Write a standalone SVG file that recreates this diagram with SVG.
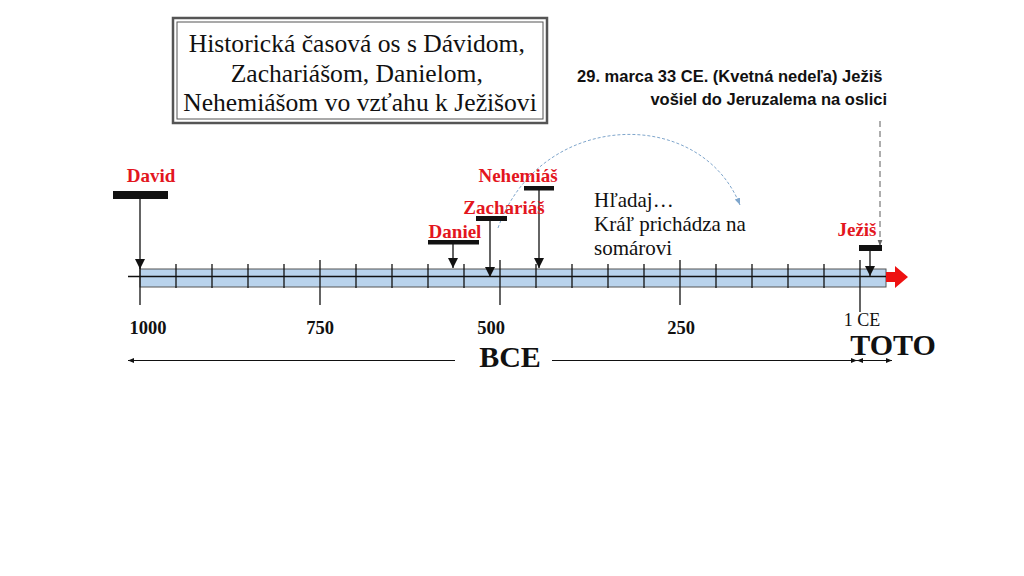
<svg xmlns="http://www.w3.org/2000/svg" width="1024" height="576" viewBox="0 0 1024 576">
<defs>
<style>
.serif{font-family:"Liberation Serif","Times New Roman",serif}
.lbl{font-family:"Liberation Serif",serif;font-weight:bold;font-size:19px;fill:#e3161e}
.yr{font-family:"Liberation Serif",serif;font-weight:bold;font-size:18.5px;fill:#111}
.big{font-family:"Liberation Serif",serif;font-weight:bold;font-size:30px;fill:#111}
.tk{stroke:#111;stroke-width:1.3}
.bar{fill:#111}
.ptr{stroke:#111;stroke-width:1.3;fill:none}
</style>
<marker id="tri" viewBox="0 0 10 10" refX="10" refY="5" markerWidth="10" markerHeight="10" markerUnits="userSpaceOnUse" orient="auto">
<path d="M0,0 L10,5 L0,10 z" fill="#111"/>
</marker>
<marker id="tri2" viewBox="0 0 10 10" refX="10" refY="5" markerWidth="6" markerHeight="6" markerUnits="userSpaceOnUse" orient="auto-start-reverse">
<path d="M0,1 L10,5 L0,9 z" fill="#111"/>
</marker>
<marker id="dsh" viewBox="0 0 10 10" refX="10" refY="5" markerWidth="7" markerHeight="7" markerUnits="userSpaceOnUse" orient="auto">
<path d="M0,1 L10,5 L0,9 z" fill="#7fa6cc"/>
</marker>
<marker id="gry" viewBox="0 0 10 10" refX="10" refY="5" markerWidth="6" markerHeight="6" markerUnits="userSpaceOnUse" orient="auto">
<path d="M0,1 L10,5 L0,9 z" fill="#666"/>
</marker>
</defs>
<rect width="1024" height="576" fill="#fff"/>

<g id="title">
<rect x="173" y="18" width="374" height="105" fill="#fff" stroke="#555" stroke-width="2.5"/>
<rect x="177" y="22" width="366" height="97" fill="none" stroke="#555" stroke-width="1"/>
<text class="serif" font-size="25.6" fill="#111" text-anchor="middle">
<tspan x="360" y="52">Historická časová os s Dávidom,</tspan>
<tspan x="360" y="82">Zachariášom, Danielom,</tspan>
<tspan x="360" y="111">Nehemiášom vo vzťahu k Ježišovi</tspan>
</text>
</g>

<g id="note">
<text font-family="'Liberation Sans',Arial,sans-serif" font-weight="bold" font-size="16.5" fill="#111" text-anchor="end">
<tspan x="887" y="82">29. marca 33 CE. (Kvetná nedeľa) Ježiš</tspan>
<tspan x="887" y="105">vošiel do Jeruzalema na oslici</tspan>
</text>
</g>

<g id="timeline">
<rect x="140" y="269" width="746" height="18" fill="#b9d3ec" stroke="#555" stroke-width="1"/>
<line x1="128" y1="276.5" x2="886" y2="276.5" stroke="#111" stroke-width="1.3"/>
<g class="tk">
<line x1="176" y1="264" x2="176" y2="288"/><line x1="212" y1="264" x2="212" y2="288"/>
<line x1="248" y1="264" x2="248" y2="288"/><line x1="284" y1="264" x2="284" y2="288"/>
<line x1="356" y1="264" x2="356" y2="288"/><line x1="392" y1="264" x2="392" y2="288"/>
<line x1="428" y1="264" x2="428" y2="288"/><line x1="464" y1="264" x2="464" y2="288"/>
<line x1="536" y1="264" x2="536" y2="288"/><line x1="572" y1="264" x2="572" y2="288"/>
<line x1="608" y1="264" x2="608" y2="288"/><line x1="644" y1="264" x2="644" y2="288"/>
<line x1="716" y1="264" x2="716" y2="288"/><line x1="752" y1="264" x2="752" y2="288"/>
<line x1="788" y1="264" x2="788" y2="288"/><line x1="824" y1="264" x2="824" y2="288"/>
<line x1="140" y1="264" x2="140" y2="305"/>
<line x1="320" y1="260" x2="320" y2="305"/>
<line x1="500" y1="260" x2="500" y2="305"/>
<line x1="680" y1="260" x2="680" y2="305"/>
<line x1="860" y1="260" x2="860" y2="312"/>
</g>
<polygon points="886,272 895,272 895,266 908,277 895,288 895,282 886,282" fill="#ee1111"/>
<text class="yr" x="148" y="334" text-anchor="middle">1000</text>
<text class="yr" x="320" y="334" text-anchor="middle">750</text>
<text class="yr" x="491" y="334" text-anchor="middle">500</text>
<text class="yr" x="681" y="334" text-anchor="middle">250</text>
<text class="serif" x="862" y="326" font-size="18" fill="#111" text-anchor="middle">1 CE</text>
<text class="big" x="893" y="355" text-anchor="middle">TOTO</text>
<text class="big" x="510" y="367" text-anchor="middle">BCE</text>
</g>

<g id="connectors">
<line x1="455" y1="360.5" x2="128" y2="360.5" stroke="#111" stroke-width="1" marker-end="url(#tri2)"/>
<line x1="552" y1="360.5" x2="857" y2="360.5" stroke="#111" stroke-width="1" marker-end="url(#tri2)"/>
<line x1="857" y1="360.5" x2="892" y2="360.5" stroke="#111" stroke-width="1" marker-start="url(#tri2)" marker-end="url(#tri2)"/>
<line x1="140" y1="199" x2="140" y2="269" class="ptr" marker-end="url(#tri)"/>
<line x1="453" y1="244" x2="453" y2="268" class="ptr" marker-end="url(#tri)"/>
<line x1="490" y1="221" x2="490" y2="277" class="ptr" marker-end="url(#tri)"/>
<line x1="539" y1="190" x2="539" y2="268" class="ptr" marker-end="url(#tri)"/>
<line x1="870" y1="251" x2="870" y2="276" class="ptr" marker-end="url(#tri)"/>
<line x1="880" y1="121" x2="880" y2="246" stroke="#777" stroke-width="1.2" stroke-dasharray="6,4" marker-end="url(#gry)"/>
<path d="M498,228 C540,110 700,105 740,205" fill="none" stroke="#7fa6cc" stroke-width="1" stroke-dasharray="3,2" marker-end="url(#dsh)"/>
</g>

<g id="david">
<rect class="bar" x="113" y="191" width="55" height="8"/>
<text class="lbl" x="151" y="182" text-anchor="middle">David</text>
</g>
<g id="daniel">
<rect class="bar" x="428" y="240" width="51" height="4.5"/>
<text class="lbl" x="455" y="238" text-anchor="middle">Daniel</text>
</g>
<g id="zachariah">
<rect class="bar" x="476" y="216" width="31" height="5"/>
<text class="lbl" x="504" y="214" text-anchor="middle">Zachariáš</text>
</g>
<g id="nehemiah">
<rect class="bar" x="524" y="186" width="30" height="4.5"/>
<text class="lbl" x="518" y="182" text-anchor="middle">Nehemiáš</text>
</g>
<g id="jesus">
<rect class="bar" x="859" y="245" width="23" height="6"/>
<text class="lbl" x="857" y="236" text-anchor="middle">Ježiš</text>
</g>

<g id="hint">
<text class="serif" font-size="21" fill="#111">
<tspan x="594" y="207">Hľadaj…</tspan>
<tspan x="594" y="231">Kráľ prichádza na</tspan>
<tspan x="594" y="255">somárovi</tspan>
</text>
</g>
</svg>
